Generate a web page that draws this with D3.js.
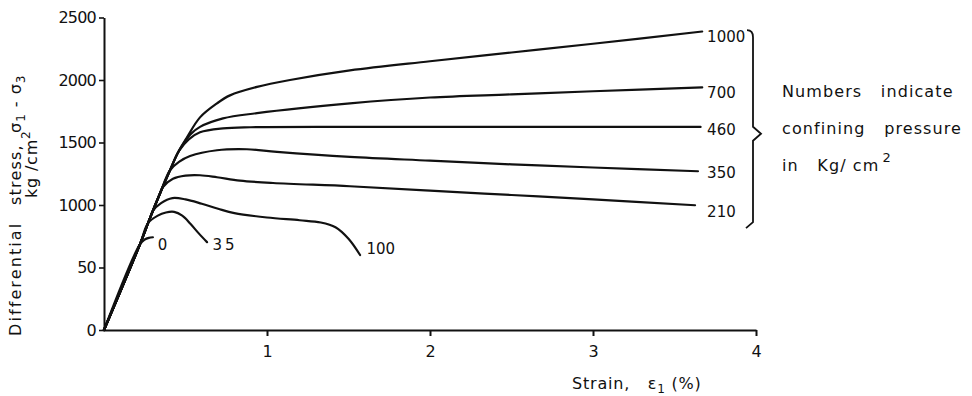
<!DOCTYPE html>
<html>
<head>
<meta charset="utf-8">
<script src="https://cdn.jsdelivr.net/npm/d3@7"></script>
<style>
  body { margin: 0; background: #fff; }
  svg { display: block; }
  text { font-family: "DejaVu Sans", sans-serif; fill: #111; }
</style>
</head>
<body>
<div id="chart"></div>
<script>
const width = 972;
const height = 396;

// axis ticks (the original figure prints "50" for the 500 tick)
const strainTicks = [1, 2, 3, 4];
const stressTicks = [0, 500, 1000, 1500, 2000, 2500];
const stressTickLabels = ["0", "50", "1000", "1500", "2000", "2500"];

// shared elastic loading line, [strain %, stress kg/cm2]
const loading = [[0, 0], [0.221, 687], [0.282, 895], [0.344, 1094], [0.405, 1278], [0.45, 1410]];

// one curve per confining pressure, each starting where it leaves the loading line
const p0 = [[0.221, 687], [0.25, 724], [0.275, 737], [0.30, 742]];
const p35 = [[0.27, 855], [0.33, 915], [0.38, 940], [0.43, 945], [0.48, 915], [0.53, 850], [0.58, 775], [0.632, 703]];
const p100 = [[0.30, 953], [0.35, 1015], [0.42, 1055], [0.5, 1045], [0.6, 1010], [0.7, 970], [0.8, 935], [1.0, 900],
    [1.2, 878], [1.33, 860], [1.42, 822], [1.5, 730], [1.571, 600]];
const p210 = [[0.36, 1142], [0.423, 1210], [0.5, 1235], [0.589, 1238], [0.693, 1222], [0.834, 1195], [1.037, 1176],
    [1.509, 1150], [2.0, 1115], [2.5, 1080], [3.0, 1045], [3.626, 998]];
const p350 = [[0.405, 1278], [0.46, 1345], [0.528, 1392], [0.693, 1438], [0.877, 1446], [1.061, 1425], [1.509, 1385],
    [2.0, 1355], [2.5, 1325], [3.0, 1300], [3.644, 1270]];
const p460 = [[0.46, 1432], [0.52, 1525], [0.589, 1582], [0.73, 1613], [0.9, 1622], [1.509, 1625], [2.5, 1625], [3.66, 1625]];
const p700 = [[0.48, 1477], [0.53, 1565], [0.589, 1625], [0.73, 1693], [0.939, 1735], [1.509, 1813], [2.0, 1860],
    [2.5, 1885], [3.0, 1910], [3.67, 1941]];
const p1000 = [[0.45, 1410], [0.509, 1541], [0.589, 1701], [0.693, 1813], [0.773, 1877], [0.939, 1945], [1.141, 2000],
    [1.509, 2077], [2.0, 2150], [2.5, 2220], [3.0, 2290], [3.67, 2388]];

const branches = [p0, p35, p100, p210, p350, p460, p700, p1000];

// curve labels: text and the point (strain, stress) it sits beside
const labelText = ["0", "35", "100", "210", "350", "460", "700", "1000"];
const labelAt = [[0.33, 680], [0.665, 680], [1.61, 650], [3.7, 944], [3.7, 1256], [3.7, 1600], [3.7, 1896], [3.7, 2345]];

const legendLines = ["Numbers   indicate", "confining   pressure", "in   Kg/ cm"];

const svg = d3.select("#chart").append("svg")
    .attr("width", width)
    .attr("height", height);

const x = d3.scaleLinear().domain([0, 4]).range([104, 756]);
const y = d3.scaleLinear().domain([0, 2500]).range([330, 17.5]);

// axes
svg.append("g")
    .attr("transform", `translate(0, ${y(0)})`)
    .call(d3.axisBottom(x).tickValues(strainTicks).tickSize(6).tickSizeOuter(0).tickPadding(10).tickFormat(d3.format("d")))
    .call(g => g.select(".domain").attr("stroke", "#111").attr("stroke-width", 2))
    .call(g => g.selectAll(".tick line").attr("stroke", "#111").attr("stroke-width", 2))
    .call(g => g.selectAll(".tick text").style("font-size", "16px").style("font-family", "DejaVu Sans").attr("fill", "#111"));

svg.append("g")
    .attr("transform", `translate(${x(0)}, 0)`)
    .call(d3.axisLeft(y).tickValues(stressTicks).tickSize(5).tickSizeOuter(0).tickPadding(3)
        .tickFormat((d, i) => stressTickLabels[i]))
    .call(g => g.select(".domain").attr("stroke", "#111").attr("stroke-width", 2))
    .call(g => g.selectAll(".tick line").attr("stroke", "#111").attr("stroke-width", 1.6))
    .call(g => g.selectAll(".tick text").style("font-size", "16px").style("font-family", "DejaVu Sans")
        .attr("fill", "#111").attr("letter-spacing", "-0.8px"));

// curves: each branch is drawn together with the loading line below it so the knee stays smooth
const line = d3.line()
    .x(d => x(d[0]))
    .y(d => y(d[1]))
    .curve(d3.curveCatmullRom.alpha(0.5));

const fullCurves = branches.map(b => loading.filter(p => p[0] < b[0][0] - 0.01).concat(b));

svg.selectAll("path.curve")
    .data(fullCurves)
    .enter().append("path")
    .attr("class", "curve")
    .attr("d", line)
    .attr("fill", "none")
    .attr("stroke", "#111")
    .attr("stroke-width", 2.2)
    .attr("stroke-linecap", "round")
    .attr("stroke-linejoin", "round");

svg.selectAll("text.plabel")
    .data(labelText)
    .enter().append("text")
    .attr("class", "plabel")
    .attr("x", (d, i) => x(labelAt[i][0]))
    .attr("y", (d, i) => y(labelAt[i][1]))
    .attr("dy", "0.35em")
    .attr("letter-spacing", d => d === "35" ? "3px" : "0px")
    .style("font-size", "15px")
    .text(d => d);

// brace to the right of the labels
const bTop = y(2375), bMid = y(1570), bBot = y(815), bx = 753;
const brace = d3.path();
brace.moveTo(bx - 6, bTop - 3);
brace.quadraticCurveTo(bx, bTop - 3, bx, bTop + 4);
brace.lineTo(bx, bMid - 7);
brace.lineTo(bx + 8, bMid);
brace.lineTo(bx, bMid + 7);
brace.lineTo(bx, bBot - 6);
brace.lineTo(bx - 7, bBot);
svg.append("path")
    .attr("d", brace.toString())
    .attr("fill", "none")
    .attr("stroke", "#111")
    .attr("stroke-width", 1.8);

// legend note
const legend = svg.append("g").attr("transform", "translate(782, 0)");
legend.selectAll("text")
    .data(legendLines)
    .enter().append("text")
    .attr("x", 0)
    .attr("y", (d, i) => 97 + i * 37)
    .attr("letter-spacing", "1.1px")
    .style("font-size", "16px")
    .style("white-space", "pre")
    .text(d => d)
    .filter((d, i) => i === 2)
    .append("tspan")
    .attr("dx", 3)
    .attr("dy", -9)
    .style("font-size", "13px")
    .text("2");

// axis titles
const xTitle = svg.append("text")
    .attr("x", 572)
    .attr("y", 389)
    .attr("letter-spacing", "0.8px")
    .style("font-size", "16px")
    .style("white-space", "pre")
    .text("Strain,   ε");
xTitle.append("tspan").attr("dy", 4).style("font-size", "12px").text("1");
xTitle.append("tspan").attr("dy", -4).text(" (%)");

// y title: words spread along the axis as in the figure
const yTitle = svg.append("g").attr("transform", "translate(21, 0) rotate(-90)");
yTitle.append("text")
    .attr("x", -336)
    .attr("letter-spacing", "2.1px")
    .style("font-size", "16px")
    .text("Differential");
yTitle.append("text")
    .attr("x", -205)
    .attr("letter-spacing", "1.2px")
    .style("font-size", "16px")
    .text("stress,");
const sigma = yTitle.append("text")
    .attr("x", -133)
    .attr("letter-spacing", "1px")
    .style("font-size", "16px")
    .style("white-space", "pre")
    .text("σ");
sigma.append("tspan").attr("dy", 4).style("font-size", "12px").text("1");
sigma.append("tspan").attr("dy", -4).text(" - σ");
sigma.append("tspan").attr("dy", 4).style("font-size", "12px").text("3");

const yUnit = svg.append("text")
    .attr("transform", "translate(37, 198) rotate(-90)")
    .attr("letter-spacing", "0.8px")
    .style("font-size", "16px")
    .style("white-space", "pre")
    .text("kg /cm");
yUnit.append("tspan").attr("dy", -7).style("font-size", "12px").text("2");
</script>
</body>
</html>
